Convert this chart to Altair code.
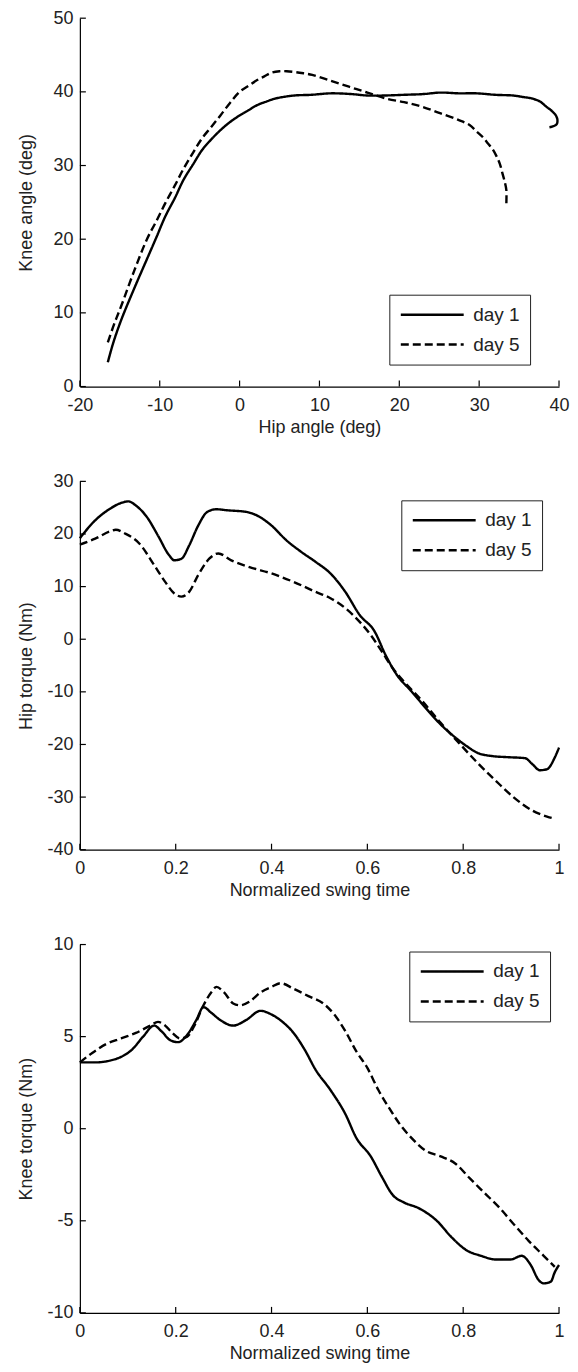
import altair as alt
import pandas as pd

FONT = "Liberation Sans"
SERIES = ["day 1", "day 5"]

# ---- Panel 1: knee angle vs hip angle ----
hip_day1 = [-16.5, -15.8, -14.8, -13.2, -11.6, -10.4, -9.3, -8.1, -7.0, -5.8, -4.7, -3.5, -2.4, -1.2, 0.0,
            1.1, 2.2, 3.4, 4.5, 6.8, 9.0, 11.4, 14.0, 16.0, 18.0, 20.6, 23.0, 25.1, 27.5, 29.7, 32.0, 34.3,
            35.5, 36.6, 37.6, 38.4, 39.1, 39.6, 39.8, 39.7, 39.2, 38.8]
knee_day1 = [3.3, 6.0, 9.1, 13.3, 17.3, 20.3, 23.1, 25.6, 28.1, 30.2, 32.1, 33.6, 34.8, 35.9, 36.8,
             37.5, 38.2, 38.7, 39.1, 39.5, 39.6, 39.8, 39.7, 39.5, 39.5, 39.6, 39.7, 39.9, 39.8, 39.8, 39.6, 39.5,
             39.3, 39.1, 38.7, 38.0, 37.4, 36.8, 36.2, 35.6, 35.3, 35.2]
hip_day5 = [-16.5, -15.7, -14.8, -13.2, -11.6, -10.4, -9.3, -8.1, -7.0, -5.8, -4.7, -3.5, -2.4, -1.2, 0.0,
            1.1, 2.2, 3.1, 4.0, 5.0, 5.9, 7.5, 9.1, 11.4, 13.7, 16.0, 18.3, 20.6, 22.8, 25.1, 27.4, 28.8,
            29.7, 30.5, 31.1, 31.7, 32.2, 32.6, 32.9, 33.2, 33.4, 33.4]
knee_day5 = [6.0, 8.5, 11.0, 15.7, 20.0, 22.5, 24.9, 27.3, 29.6, 31.8, 33.7, 35.3, 36.8, 38.5, 40.0,
             40.8, 41.6, 42.1, 42.6, 42.8, 42.8, 42.6, 42.3, 41.5, 40.7, 39.9, 39.1, 38.6, 38.0, 37.1, 36.2, 35.5,
             34.6, 33.8, 33.0, 32.2, 31.2, 30.2, 29.0, 27.8, 26.7, 24.7]

# ---- Panel 2: hip torque ----
t_hip_day1 = [0, 0.032, 0.063, 0.086, 0.101, 0.117, 0.14, 0.163, 0.186, 0.197, 0.212, 0.228, 0.247, 0.266,
              0.285, 0.308, 0.347, 0.37, 0.40, 0.431, 0.462, 0.492, 0.523, 0.554, 0.584, 0.615, 0.638, 0.661,
              0.692, 0.722, 0.753, 0.784, 0.807, 0.83, 0.86, 0.89, 0.929, 0.945, 0.96, 0.975, 0.991, 1.0]
hip_torque_day1 = [19.2, 22.6, 24.8, 25.9, 26.2, 25.4, 23.2, 19.7, 16.0, 15.0, 15.3, 17.8, 21.6, 24.2,
                   24.7, 24.5, 24.2, 23.5, 21.6, 18.8, 16.6, 14.7, 12.5, 9.0, 4.6, 1.5, -3.0, -6.7,
                   -9.9, -13.1, -16.2, -18.7, -20.3, -21.6, -22.2, -22.4, -22.6, -23.8, -24.9, -24.7, -22.5, -20.6]
t_hip_day5 = [0, 0.032, 0.063, 0.075, 0.094, 0.124, 0.155, 0.178, 0.197, 0.212, 0.228, 0.247, 0.27, 0.289,
              0.316, 0.354, 0.40, 0.446, 0.492, 0.523, 0.554, 0.584, 0.607, 0.63, 0.653, 0.676, 0.715, 0.753,
              0.791, 0.83, 0.868, 0.906, 0.945, 0.975, 0.991]
hip_torque_day5 = [18.0, 19.1, 20.5, 20.8, 20.1, 18.2, 14.1, 10.9, 8.7, 8.1, 9.0, 12.2, 15.3, 16.3,
                   15.0, 13.7, 12.5, 10.9, 9.0, 7.8, 5.9, 3.3, 0.8, -2.3, -5.5, -8.0, -11.8, -15.9,
                   -19.7, -23.5, -26.9, -30.1, -32.6, -33.7, -34.1]

# ---- Panel 3: knee torque ----
t_knee_day1 = [0, 0.032, 0.063, 0.086, 0.109, 0.132, 0.155, 0.17, 0.189, 0.205, 0.224, 0.243, 0.258, 0.274,
               0.293, 0.32, 0.347, 0.377, 0.40, 0.423, 0.446, 0.469, 0.492, 0.523, 0.554, 0.577, 0.607, 0.63,
               0.653, 0.676, 0.706, 0.745, 0.776, 0.807, 0.837, 0.868, 0.899, 0.922, 0.941, 0.957, 0.968,
               0.983, 0.991, 1.0]
knee_torque_day1 = [3.6, 3.6, 3.7, 3.9, 4.3, 5.0, 5.6, 5.3, 4.8, 4.7, 5.1, 5.9, 6.6, 6.3,
                    5.9, 5.6, 5.9, 6.4, 6.2, 5.8, 5.2, 4.3, 3.2, 2.1, 0.8, -0.5, -1.5, -2.6,
                    -3.6, -4.0, -4.3, -5.0, -5.9, -6.6, -6.9, -7.1, -7.1, -6.9, -7.4, -8.2, -8.4,
                    -8.3, -7.8, -7.4]
t_knee_day5 = [0, 0.025, 0.055, 0.086, 0.117, 0.147, 0.163, 0.178, 0.193, 0.209, 0.224, 0.239, 0.258, 0.274,
               0.285, 0.301, 0.32, 0.334, 0.354, 0.377, 0.40, 0.419, 0.446, 0.477, 0.508, 0.531, 0.554, 0.577,
               0.60, 0.623, 0.646, 0.669, 0.692, 0.722, 0.753, 0.784, 0.814, 0.845, 0.876, 0.906, 0.937,
               0.968, 0.991]
knee_torque_day5 = [3.6, 4.1, 4.6, 4.9, 5.2, 5.6, 5.8, 5.6, 5.2, 4.9, 5.0, 5.6, 6.7, 7.4,
                    7.7, 7.4, 6.8, 6.7, 6.9, 7.4, 7.7, 7.9, 7.6, 7.2, 6.8, 6.2, 5.3, 4.2,
                    3.3, 2.1, 1.1, 0.2, -0.5, -1.2, -1.5, -1.9, -2.7, -3.5, -4.3, -5.2, -6.1,
                    -6.9, -7.5]

# tick values
angle_x_ticks = [-20, -10, 0, 10, 20, 30, 40]
angle_y_ticks = [0, 10, 20, 30, 40, 50]
time_ticks = [0, 0.2, 0.4, 0.6, 0.8, 1]
hip_torque_ticks = [-40, -30, -20, -10, 0, 10, 20, 30]
knee_torque_ticks = [-10, -5, 0, 5, 10]

W = 480
H = 369
TEXT = "#222222"


def frame(xs1, ys1, xs5, ys5):
    d1 = pd.DataFrame({"x": xs1, "y": ys1, "series": SERIES[0], "i": range(len(xs1))})
    d5 = pd.DataFrame({"x": xs5, "y": ys5, "series": SERIES[1], "i": range(len(xs5))})
    return pd.concat([d1, d5], ignore_index=True)


def panel(df, xdom, ydom, xticks, yticks, xtitle, ytitle, lx, ly, interp):
    xsc = alt.Scale(domain=xdom, nice=False, zero=False)
    ysc = alt.Scale(domain=ydom, nice=False, zero=False)
    xaxis = alt.Axis(values=xticks, title=xtitle, labelExpr="'' + datum.value", ticks=False, tickSize=0,
                     grid=False, domainColor="black", domainWidth=1.2, labelFont=FONT, labelFontSize=18,
                     labelColor=TEXT, labelPadding=10, labelFlush=False, labelOverlap=False,
                     titleFont=FONT, titleFontSize=18, titleFontWeight="normal", titleColor=TEXT,
                     titlePadding=4)
    yaxis = alt.Axis(values=yticks, title=ytitle, labelExpr="'' + datum.value", ticks=False, tickSize=0,
                     grid=False, domainColor="black", domainWidth=1.2, labelFont=FONT, labelFontSize=18,
                     labelColor=TEXT, labelPadding=7, labelFlush=False, labelOverlap=False,
                     titleFont=FONT, titleFontSize=18, titleFontWeight="normal", titleColor=TEXT,
                     titleX=-44, titleY=H / 2, titleAngle=270, titleBaseline="bottom", titleAlign="center")
    legend = alt.Legend(title=None, orient="none", legendX=lx, legendY=ly, symbolType="stroke",
                        symbolSize=3969, symbolStrokeWidth=2.5, symbolStrokeColor="black",
                        labelFont=FONT, labelFontSize=19, labelColor=TEXT, strokeColor="#222222",
                        fillColor="white", padding=10, labelOffset=8, rowPadding=10, clipHeight=20)
    lines = alt.Chart(df).mark_line(color="black", strokeWidth=2.4, interpolate=interp).encode(
        x=alt.X("x:Q", scale=xsc, axis=xaxis),
        y=alt.Y("y:Q", scale=ysc, axis=yaxis),
        strokeDash=alt.StrokeDash("series:N",
                                  scale=alt.Scale(domain=SERIES, range=[[1, 0], [8, 4]]),
                                  legend=legend),
        order="i:Q",
    )
    xt = alt.Chart(pd.DataFrame({"v": xticks})).mark_rule(color="black", strokeWidth=1.2).encode(
        x=alt.X("v:Q", scale=xsc, title=xtitle), y=alt.value(H), y2=alt.value(H - 6))
    yt = alt.Chart(pd.DataFrame({"v": yticks})).mark_rule(color="black", strokeWidth=1.2).encode(
        y=alt.Y("v:Q", scale=ysc, title=ytitle), x=alt.value(0), x2=alt.value(6))
    return alt.layer(lines, xt, yt).properties(width=W, height=H)


p1 = panel(frame(hip_day1, knee_day1, hip_day5, knee_day5), [-20, 40], [0, 50],
           angle_x_ticks, angle_y_ticks, "Hip angle (deg)", "Knee angle (deg)", 310, 277, "catmull-rom")
p2 = panel(frame(t_hip_day1, hip_torque_day1, t_hip_day5, hip_torque_day5), [0, 1], [-40, 30],
           time_ticks, hip_torque_ticks, "Normalized swing time", "Hip torque (Nm)", 322, 19, "monotone")
p3 = panel(frame(t_knee_day1, knee_torque_day1, t_knee_day5, knee_torque_day5), [0, 1], [-10, 10],
           time_ticks, knee_torque_ticks, "Normalized swing time", "Knee torque (Nm)", 330, 7, "monotone")

chart = alt.vconcat(p1, p2, p3, spacing=95, bounds="flush").resolve_scale(
    strokeDash="independent", x="independent", y="independent"
).resolve_legend(strokeDash="independent").properties(
    padding={"left": 10, "top": 0, "right": 0, "bottom": 0}
).configure_view(stroke=None)

chart.save("out.html", embed_options={"renderer": "svg", "actions": False})
